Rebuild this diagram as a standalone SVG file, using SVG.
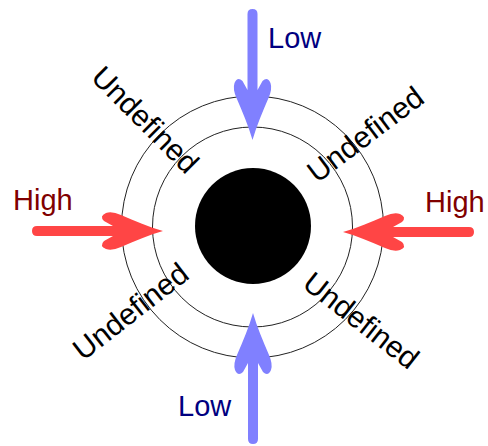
<svg xmlns="http://www.w3.org/2000/svg" width="488" height="446" viewBox="0 0 488 446">
  <defs>
    <style>
      .ring { fill: none; stroke: #222; stroke-width: 1; }
      .lbl { font-family: "Liberation Sans", Arial, sans-serif; font-size: 29px; }
      .und { font-family: "Liberation Sans", Arial, sans-serif; font-size: 30px; fill: #000; text-anchor: middle; }
      .low { fill: #000080; }
      .high { fill: #800000; }
      .blue { fill: #8080ff; }
      .red { fill: #ff4545; }
    </style>
    <path id="arrow" d="M 0 0 C -14 -4 -28 -10 -42 -16 Q -51 -20 -57 -18 Q -64 -15 -59 -10 L -50 -5 L -126 -5 Q -131 -5 -131 0 Q -131 5 -126 5 L -50 5 L -59 10 Q -64 15 -57 18 Q -51 20 -42 16 C -28 10 -14 4 0 0 Z"/>
  </defs>
  <g id="rings">
    <circle class="ring" cx="252.5" cy="227" r="131"/>
    <circle class="ring" cx="252.5" cy="227" r="100"/>
  </g>
  <g id="core">
    <circle cx="253" cy="226" r="58" fill="#000"/>
  </g>
  <g id="connectors">
    <use href="#arrow" class="blue" transform="translate(252.5,140) rotate(90)"/>
    <use href="#arrow" class="blue" transform="translate(253,313) rotate(-90)"/>
    <use href="#arrow" class="red" transform="translate(163,231)"/>
    <use href="#arrow" class="red" transform="translate(343,232) rotate(180)"/>
  </g>
  <g id="label-low-top"><text class="lbl low" x="268" y="48">Low</text></g>
  <g id="label-low-bottom"><text class="lbl low" x="178" y="416">Low</text></g>
  <g id="label-high-left"><text class="lbl high" x="13" y="210">High</text></g>
  <g id="label-high-right"><text class="lbl high" x="425" y="212">High</text></g>
  <g id="undefined-tl"><text class="und" transform="translate(138,127) rotate(45)">Undefined</text></g>
  <g id="undefined-tr"><text class="und" transform="translate(371.5,142.6) rotate(-37)">Undefined</text></g>
  <g id="undefined-bl"><text class="und" transform="translate(137,319.5) rotate(-38)">Undefined</text></g>
  <g id="undefined-br"><text class="und" transform="translate(354.8,328.5) rotate(38)">Undefined</text></g>
</svg>
